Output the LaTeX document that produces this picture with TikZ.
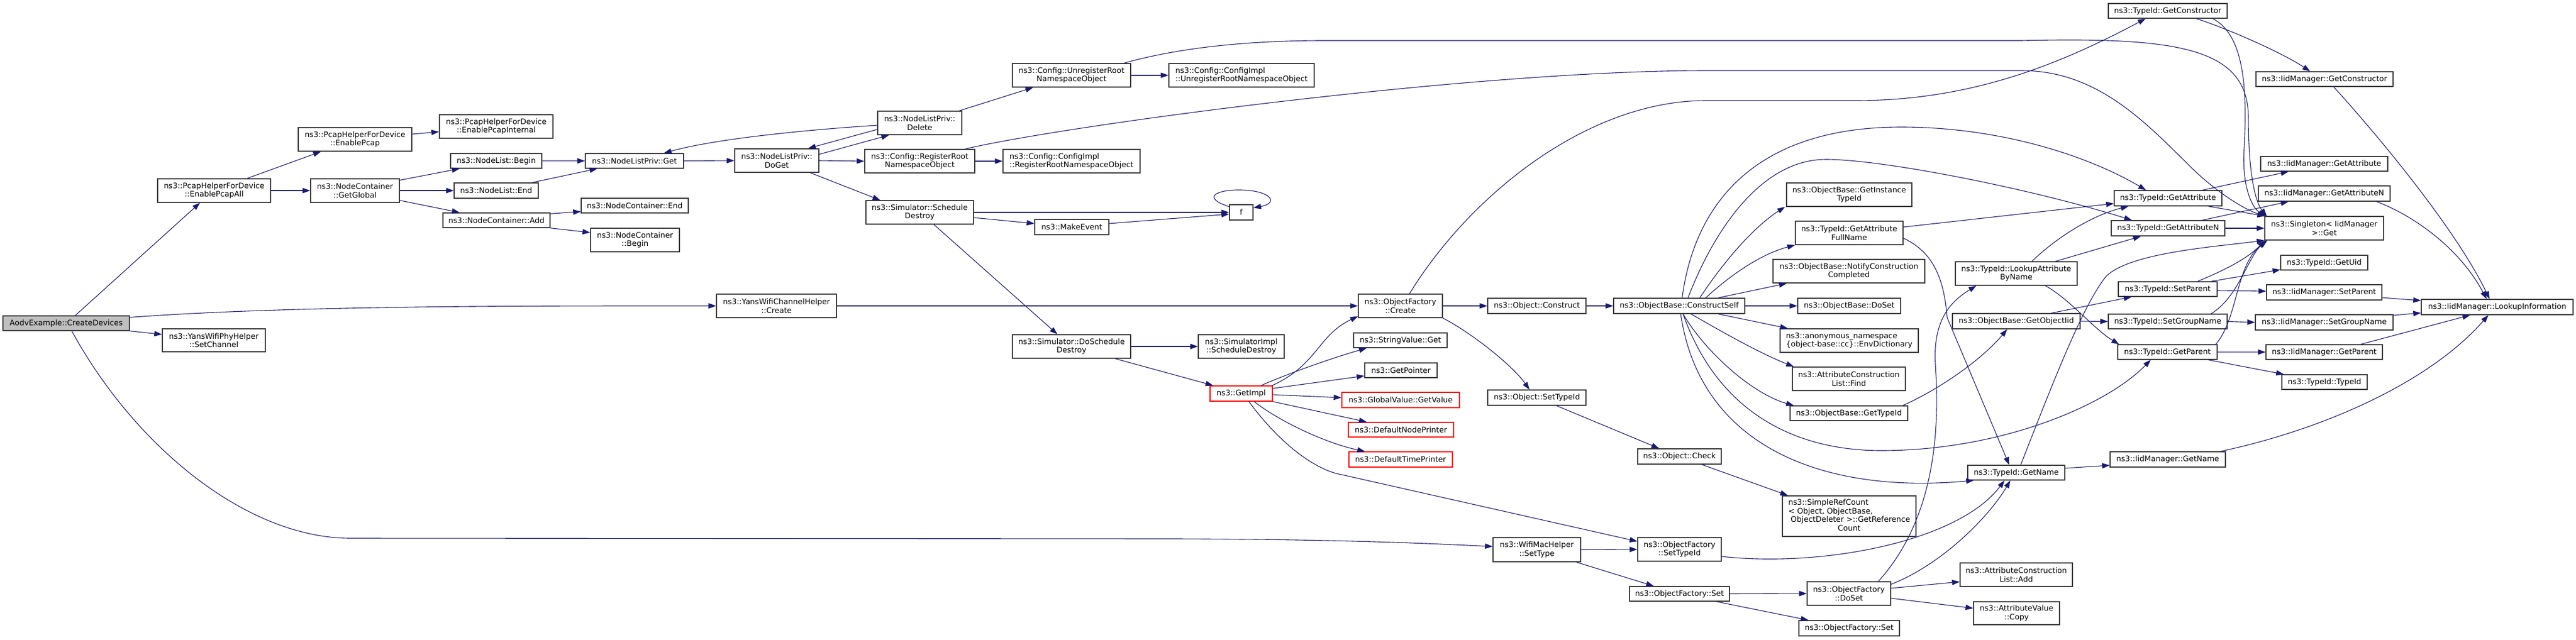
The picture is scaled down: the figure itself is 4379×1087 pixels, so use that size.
\documentclass[tikz,border=0pt]{standalone}
\usepackage{fontspec}
\setmainfont{DejaVu Sans}
\usetikzlibrary{arrows.meta,calc}
\definecolor{edgec}{HTML}{191970}
\definecolor{boxc}{HTML}{3A3A3A}
\newcommand{\mybox}[7][]{\node[box,#1,minimum width={#3pt-#2pt},minimum height={#5pt-#4pt}] (#6) at ({(#2+#3)/2},{(#4+#5)/2}) {#7};}
\begin{document}
\begin{tikzpicture}[x=1pt,y=-1pt,
  box/.style={draw=boxc, line width=1.4pt, fill=white, inner sep=0pt, align=center, font=\fontsize{13}{14.5}\selectfont},
  redbox/.style={draw=red},
  startbox/.style={fill=black!25},
  conn/.style={draw=edgec, line width=1.1pt, -{Triangle[length=13pt,width=9pt]}}]
\useasboundingbox (0,0) rectangle (4379,1087);
\fill[white] (0,0) rectangle (4379,1087);
% nodes
\mybox[startbox]{5}{220}{537}{562}{aodv}{AodvExample::CreateDevices}
\mybox{268}{460}{304}{344}{epall}{ns3::PcapHelperForDevice\\::EnablePcapAll}
\mybox{507}{700}{217}{257}{ep}{ns3::PcapHelperForDevice\\::EnablePcap}
\mybox{528}{679}{304}{344}{gg}{ns3::NodeContainer\\::GetGlobal}
\mybox{276}{451}{559}{598}{ysc}{ns3::YansWifiPhyHelper\\::SetChannel}
\mybox{747}{940}{195}{235}{epi}{ns3::PcapHelperForDevice\\::EnablePcapInternal}
\mybox{766}{921}{261}{286}{nlb}{ns3::NodeList::Begin}
\mybox{995}{1162}{261}{286}{nlpget}{ns3::NodeListPriv::Get}
\mybox{772}{915}{311}{337}{nle}{ns3::NodeList::End}
\mybox{988}{1170}{337}{362}{nce}{ns3::NodeContainer::End}
\mybox{753}{935}{362}{387}{nca}{ns3::NodeContainer::Add}
\mybox{1004}{1155}{388}{428}{ncb}{ns3::NodeContainer\\::Begin}
\mybox{1249}{1392}{253}{293}{doget}{ns3::NodeListPriv::\\DoGet}
\mybox{1218}{1422}{500}{540}{ywch}{ns3::YansWifiChannelHelper\\::Create}
\mybox{1492}{1635}{189}{229}{del}{ns3::NodeListPriv::\\Delete}
\mybox{1721}{1922}{108}{148}{unreg}{ns3::Config::UnregisterRoot\\NamespaceObject}
\mybox[align=left]{1987}{2234}{108}{148}{cunreg}{ns3::Config::ConfigImpl\\::UnregisterRootNamespaceObject}
\mybox{1470}{1657}{254}{294}{reg}{ns3::Config::RegisterRoot\\NamespaceObject}
\mybox[align=left]{1705}{1938}{254}{294}{creg}{ns3::Config::ConfigImpl\\::RegisterRootNamespaceObject}
\mybox{1472}{1655}{341}{381}{sd}{ns3::Simulator::Schedule\\Destroy}
\mybox{1759}{1885}{373}{399}{me}{ns3::MakeEvent}
\mybox{2090}{2130}{348}{374}{f}{f}
\mybox{1721}{1922}{569}{609}{dsd}{ns3::Simulator::DoSchedule\\Destroy}
\mybox{2037}{2183}{569}{609}{sisd}{ns3::SimulatorImpl\\::ScheduleDestroy}
\mybox[redbox]{2057}{2163}{656}{682}{gi}{ns3::GetImpl}
\mybox{2309}{2452}{500}{540}{ofc}{ns3::ObjectFactory\\::Create}
\mybox{2529}{2696}{507}{533}{oc}{ns3::Object::Construct}
\mybox{2743}{2966}{507}{533}{cs}{ns3::ObjectBase::ConstructSelf}
\mybox{2301}{2460}{566}{591}{svg}{ns3::StringValue::Get}
\mybox{2320}{2443}{617}{642}{gp}{ns3::GetPointer}
\mybox[redbox]{2281}{2481}{667}{693}{gv}{ns3::GlobalValue::GetValue}
\mybox[redbox]{2292}{2471}{718}{743}{dnp}{ns3::DefaultNodePrinter}
\mybox[redbox]{2293}{2469}{768}{794}{dtp}{ns3::DefaultTimePrinter}
\mybox{2529}{2696}{663}{689}{ost}{ns3::Object::SetTypeId}
\mybox{2784}{2926}{763}{789}{ock}{ns3::Object::Check}
\mybox{2538}{2687}{914}{955}{wms}{ns3::WifiMacHelper\\::SetType}
\mybox{2784}{2926}{914}{954}{ofst}{ns3::ObjectFactory\\::SetTypeId}
\mybox{2770}{2940}{997}{1022}{ofs1}{ns3::ObjectFactory::Set}
\mybox{3072}{3214}{989}{1029}{ofds}{ns3::ObjectFactory\\::DoSet}
\mybox{3058}{3229}{1055}{1081}{ofs2}{ns3::ObjectFactory::Set}
\mybox{3332}{3523}{957}{997}{acladd}{ns3::AttributeConstruction\\List::Add}
\mybox{3355}{3501}{1023}{1062}{avc}{ns3::AttributeValue\\::Copy}
\mybox{3345}{3510}{791}{816}{tgn}{ns3::TypeId::GetName}
\mybox[align=left]{3026}{3261}{559}{599}{anon}{ns3::anonymous\_namespace\\\{object-base::cc\}::EnvDictionary}
\mybox{3047}{3239}{624}{664}{aclf}{ns3::AttributeConstruction\\List::Find}
\mybox{3043}{3243}{690}{715}{obgt}{ns3::ObjectBase::GetTypeId}
\mybox{3030}{3257}{843}{912}{src}{\begin{tabular}{@{}l@{}}ns3::SimpleRefCount\\< Object, ObjectBase,\\\ ObjectDeleter >::GetReference\\\multicolumn{1}{@{}c@{}}{Count}\end{tabular}}
\mybox{3319}{3536}{533}{559}{goi}{ns3::ObjectBase::GetObjectIid}
\mybox{3037}{3250}{311}{351}{git}{ns3::ObjectBase::GetInstance\\TypeId}
\mybox{3052}{3235}{376}{416}{gafn}{ns3::TypeId::GetAttribute\\FullName}
\mybox{3014}{3272}{441}{481}{ncc}{ns3::ObjectBase::NotifyConstruction\\Completed}
\mybox{3056}{3231}{507}{533}{ods}{ns3::ObjectBase::DoSet}
\mybox{3324}{3531}{445}{485}{laa}{ns3::TypeId::LookupAttribute\\ByName}
\mybox{3594}{3777}{324}{350}{tga}{ns3::TypeId::GetAttribute}
\mybox{3589}{3782}{375}{401}{tgan}{ns3::TypeId::GetAttributeN}
\mybox{3584}{3786}{6}{31}{tgc}{ns3::TypeId::GetConstructor}
\mybox{3835}{4068}{122}{147}{imgc}{ns3::IidManager::GetConstructor}
\mybox{3843}{4059}{266}{291}{imga}{ns3::IidManager::GetAttribute}
\mybox{3839}{4063}{316}{342}{imgan}{ns3::IidManager::GetAttributeN}
\mybox{3850}{4052}{368}{408}{sg}{ns3::Singleton< IidManager\\ >::Get}
\mybox{3877}{4025}{434}{459}{tgu}{ns3::TypeId::GetUid}
\mybox{3601}{3769}{479}{504}{tsp}{ns3::TypeId::SetParent}
\mybox{3853}{4049}{484}{510}{imsp}{ns3::IidManager::SetParent}
\mybox{4116}{4374}{509}{535}{imli}{ns3::IidManager::LookupInformation}
\mybox{3584}{3786}{534}{559}{tsgn}{ns3::TypeId::SetGroupName}
\mybox{3834}{4068}{535}{561}{imsgn}{ns3::IidManager::SetGroupName}
\mybox{3600}{3769}{586}{611}{tgp}{ns3::TypeId::GetParent}
\mybox{3852}{4050}{586}{611}{imgp}{ns3::IidManager::GetParent}
\mybox{3879}{4024}{637}{662}{ttid}{ns3::TypeId::TypeId}
\mybox{3587}{3783}{768}{794}{imgn}{ns3::IidManager::GetName}
% edges: AodvExample
\draw[conn] ([xshift=15.5pt]aodv.north) -- ([xshift=-24pt]epall.south);
\draw[conn] ([yshift=10pt]aodv.east) .. controls (500,519) and (900,520) .. (ywch.west);
\draw[conn] (aodv.south east) -- ([yshift=10pt]ysc.west);
\draw[conn] ([xshift=9.5pt]aodv.south) .. controls (230,760) and (420,915) .. (596,915) -- (2000,916) .. controls (2300,917) and (2450,925) .. ([yshift=5.5pt]wms.west);
% pcap / nodes
\draw[conn] ([xshift=56pt]epall.north) -- ([xshift=-58pt]ep.south);
\draw[conn] (epall.east) -- (gg.west);
\draw[conn] ([yshift=9pt]ep.east) -- ([yshift=-9pt]epi.west);
\draw[conn] ([yshift=-3pt]gg.north east) -- ([xshift=16pt]nlb.south west);
\draw[conn] (gg.east) -- (nle.west);
\draw[conn] ([yshift=4pt]gg.south east) -- ([xshift=29pt]nca.north west);
\draw[conn] (nlb.east) -- (nlpget.west);
\draw[conn] ([xshift=-11pt]nle.north east) -- ([xshift=21pt]nlpget.south west);
\draw[conn] ([yshift=-2pt]nca.north east) -- ([yshift=3pt]nce.south west);
\draw[conn] (nca.south east) -- ([yshift=-8pt]ncb.north west);
\draw[conn] (nlpget.east) -- (doget.west);
\draw[conn] ([yshift=-10pt]doget.north east) -- ([xshift=20pt]del.south west);
\draw[conn] ([yshift=-11pt]del.west) -- ([xshift=-19pt]doget.north east);
\draw[conn] ([yshift=-4pt]del.west) .. controls (1380,220) and (1220,235) .. ([xshift=50pt]nlpget.north);
\draw[conn] (doget.east) -- (reg.west);
\draw[conn] ([xshift=57pt]doget.south) -- ([xshift=25pt]sd.north west);
\draw[conn] ([xshift=-5pt]del.north east) -- ([xshift=36pt]unreg.south west);
\draw[conn] (unreg.east) -- (cunreg.west);
\draw[conn] (reg.east) -- (creg.west);
\draw[conn] ([xshift=-12pt]unreg.north east) .. controls (1990,85) and (2100,69) .. (2250,69) -- (3436,69) .. controls (3700,63) and (3822,80) .. (3822,200) .. controls (3822,300) and (3835,345) .. ([xshift=4pt]sg.north west);
\draw[conn] ([xshift=-17pt]reg.north east) .. controls (1800,215) and (2500,120) .. (2900,120) -- (3436,120) .. controls (3560,120) and (3640,200) .. (3720,280) .. controls (3770,330) and (3820,358) .. ([xshift=2pt]sg.north west);
% simulator
\draw[conn] (sd.east) -- (f.west);
\draw[conn] ([yshift=-9pt]sd.east) -- ([yshift=6pt]me.west);
\draw[conn] ([yshift=6pt]me.east) -- ([yshift=-3pt]f.west);
\draw[conn] ([yshift=-4pt]f.north west) .. controls (2040,335) and (2070,322) .. (2110,323) .. controls (2160,324) and (2175,345) .. ([yshift=-6pt]f.north east);
\draw[conn] ([xshift=24pt]sd.south) -- ([xshift=-24pt]dsd.north);
\draw[conn] (dsd.east) -- (sisd.west);
\draw[conn] ([xshift=-27pt]dsd.south east) -- ([xshift=6pt]gi.north west);
% GetImpl
\draw[conn] ([xshift=-1pt]gi.north east) .. controls (2240,620) and (2240,570) .. ([yshift=3pt]ofc.south west);
\draw[conn] ([xshift=-20pt]gi.north east) .. controls (2190,635) and (2260,610) .. ([xshift=23pt]svg.south west);
\draw[conn] ([yshift=-5pt]gi.north east) -- ([yshift=-9.5pt]gp.west);
\draw[conn] ([yshift=-2pt]gi.east) -- ([yshift=4pt]gv.west);
\draw[conn] (gi.south east) -- ([xshift=32pt]dnp.north west);
\draw[conn] ([xshift=22pt]gi.south) .. controls (2180,720) and (2260,755) .. ([xshift=28pt]dtp.north west);
\draw[conn] ([xshift=13pt]gi.south) .. controls (2180,760) and (2240,800) .. (2281,807) -- ([yshift=-7pt]ofst.north west);
% ObjectFactory
\draw[conn] (ywch.east) -- (ofc.west);
\draw[conn] (ofc.east) -- (oc.west);
\draw[conn] (oc.east) -- (cs.west);
\draw[conn] ([xshift=15.5pt]ofc.north) .. controls (2500,330) and (2700,171) .. (2900,171) -- (3155,171) .. controls (3350,171) and (3500,110) .. ([xshift=64pt]tgc.south west);
\draw[conn] (ofc.south east) .. controls (2500,565) and (2570,620) .. ([xshift=-12.5pt]ost.north);
\draw[conn] ([xshift=33.5pt]ost.south) -- ([xshift=37pt]ock.north west);
\draw[conn] ([xshift=-34pt]ock.south east) -- ([xshift=10pt]src.north west);
% WifiMacHelper
\draw[conn] (wms.east) -- (ofst.west);
\draw[conn] ([xshift=-8pt]wms.south east) -- ([xshift=42pt]ofs1.north west);
\draw[conn] ([yshift=-12pt]ofst.east) .. controls (3100,965) and (3330,920) .. ([xshift=-20pt]tgn.south);
\draw[conn] (ofs1.east) -- (ofds.west);
\draw[conn] ([xshift=-23pt]ofs1.south east) -- ([xshift=17pt]ofs2.north west);
\draw[conn] ([yshift=-5pt]ofds.north east) .. controls (3300,960) and (3380,880) .. ([xshift=-10pt]tgn.south);
\draw[conn] ([xshift=50pt]ofds.north) .. controls (3300,870) and (3295,700) .. (3290,620) .. controls (3285,540) and (3320,510) .. ([xshift=-68pt]laa.south);
\draw[conn] ([yshift=9pt]ofds.east) -- ([yshift=-12pt]acladd.west);
\draw[conn] ([yshift=-8pt]ofds.east) -- ([yshift=8.5pt]avc.west);
% ConstructSelf
\draw[conn] ([xshift=5pt]cs.north) .. controls (2880,350) and (2980,216) .. (3232,216) .. controls (3400,216) and (3550,265) .. ([xshift=-37.5pt]tga.north);
\draw[conn] ([xshift=15pt]cs.north) .. controls (2910,400) and (2990,271) .. (3104,271) .. controls (3200,271) and (3450,320) .. ([xshift=-61.5pt]tgan.north);
\draw[conn] ([xshift=35pt]cs.north) .. controls (2940,430) and (2990,380) .. ([xshift=-2pt]git.south west);
\draw[conn] ([xshift=45pt]cs.north) .. controls (2950,460) and (3000,430) .. (gafn.south west);
\draw[conn] ([xshift=-46pt]cs.north east) -- ([xshift=24pt]ncc.south west);
\draw[conn] (cs.east) -- (ods.west);
\draw[conn] ([xshift=-46pt]cs.south east) -- ([xshift=14pt]anon.north west);
\draw[conn] ([xshift=20pt]cs.south) .. controls (2920,560) and (2990,600) .. ([xshift=3pt]aclf.north west);
\draw[conn] ([xshift=6.5pt]cs.south) .. controls (2900,600) and (2980,670) .. ([xshift=7pt]obgt.north west);
\draw[conn] ([xshift=6.5pt]cs.south) .. controls (2920,700) and (3050,766) .. (3198,766) .. controls (3400,766) and (3580,690) .. ([xshift=-28.5pt]tgp.south);
\draw[conn] ([xshift=2.5pt]cs.south) .. controls (2890,760) and (3100,840) .. ([xshift=11pt]tgn.south west);
% TypeId
\draw[conn] ([yshift=10pt]gafn.east) -- ([yshift=-9pt]tga.west);
\draw[conn] ([yshift=-9pt]gafn.east) .. controls (3290,430) and (3305,480) .. (3310,540) -- ([xshift=-12pt]tgn.north);
\draw[conn] ([xshift=26.5pt]laa.north) .. controls (3500,400) and (3560,365) .. ([xshift=25pt]tga.south west);
\draw[conn] ([xshift=66.5pt]laa.north) -- ([xshift=51pt]tgan.south west);
\draw[conn] ([xshift=49.5pt]laa.south) .. controls (3520,510) and (3560,560) .. ([xshift=3pt]tgp.north west);
\draw[conn] ([xshift=-9pt]obgt.north east) .. controls (3300,660) and (3370,610) .. ([xshift=-15.5pt]goi.south);
\draw[conn] (goi.east) -- (tsgn.west);
\draw[conn] ([xshift=59.5pt]goi.north) -- ([xshift=23pt]tsp.south west);
\draw[conn] ([xshift=7.5pt]tgn.north) .. controls (3490,650) and (3540,520) .. (3580,470) .. controls (3620,430) and (3760,420) .. (sg.south west);
\draw[conn] ([yshift=7.5pt]tgn.east) -- ([yshift=-10pt]imgn.west);
\draw[conn] ([xshift=-53pt]tgc.south east) .. controls (3790,50) and (3880,90) .. ([xshift=-24.5pt]imgc.north);
\draw[conn] ([xshift=-25pt]tgc.south east) .. controls (3815,60) and (3820,150) .. (3815,250) .. controls (3810,320) and (3830,355) .. ([xshift=3pt]sg.north west);
\draw[conn] ([xshift=15.5pt]imgc.south) .. controls (4060,250) and (4180,400) .. ([xshift=-13pt]imli.north);
\draw[conn] ([xshift=-34pt]tga.north east) -- ([xshift=48pt]imga.south west);
\draw[conn] ([xshift=-24pt]tga.south east) -- ([xshift=1pt]sg.north west);
\draw[conn] ([xshift=-39pt]tgan.north east) -- ([xshift=52pt]imgan.south west);
\draw[conn] (tgan.east) -- (sg.west);
\draw[conn] ([xshift=-24pt]imgan.south east) .. controls (4100,365) and (4180,420) .. ([xshift=-18pt]imli.north);
\draw[conn] ([xshift=-11pt]tsp.north east) -- ([yshift=-12pt]tgu.west);
\draw[conn] ([xshift=-34pt]tsp.north east) .. controls (3780,460) and (3820,440) .. ([xshift=1pt]sg.south west);
\draw[conn] ([yshift=-2.5pt]tsp.east) -- ([yshift=2pt]imsp.west);
\draw[conn] ([yshift=-9pt]imsp.east) -- ([yshift=11pt]imli.west);
\draw[conn] (tsgn.east) -- (imsgn.west);
\draw[conn] ([xshift=-28pt]tsgn.north east) .. controls (3805,505) and (3820,440) .. ([xshift=3pt]sg.south west);
\draw[conn] ([yshift=12pt]imsgn.east) -- ([yshift=-10pt]imli.west);
\draw[conn] (tgp.east) -- (imgp.west);
\draw[conn] ([xshift=-16pt]tgp.south east) -- ([xshift=4pt]ttid.north west);
\draw[conn] ([xshift=-3pt]tgp.north east) .. controls (3805,540) and (3800,450) .. ([xshift=5pt]sg.south west);
\draw[conn] ([xshift=62pt]imgp.north) -- ([xshift=-46pt]imli.south);
\draw[conn] ([xshift=-9pt]imgn.north east) .. controls (3950,730) and (4130,650) .. ([xshift=-15pt]imli.south);
\end{tikzpicture}
\end{document}
